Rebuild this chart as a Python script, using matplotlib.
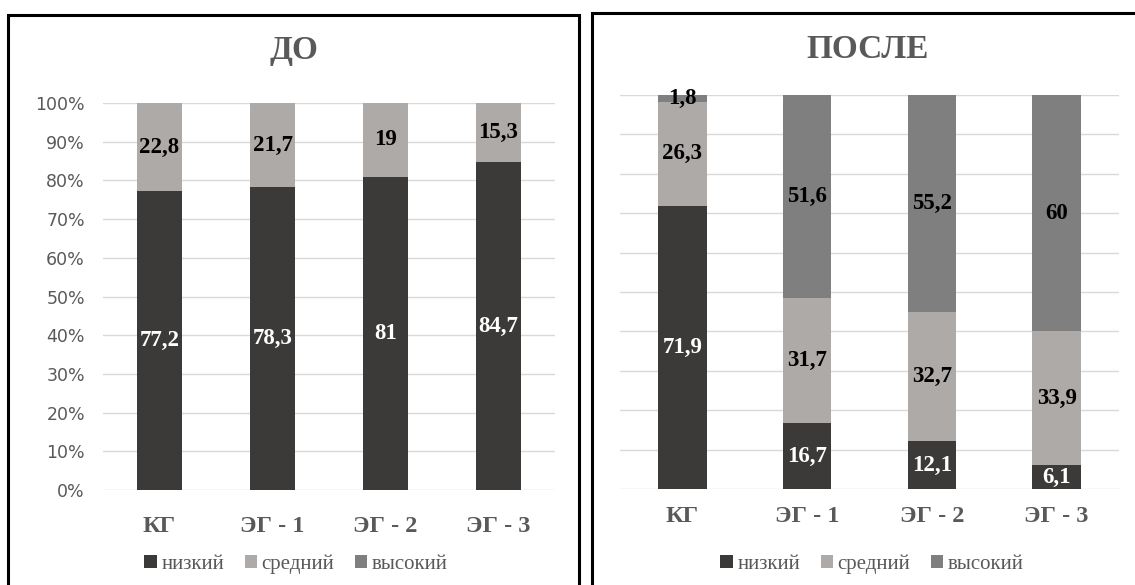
import matplotlib
matplotlib.use("Agg")
import matplotlib.pyplot as plt
from matplotlib.patches import Rectangle, Patch

plt.rcParams["font.family"] = ["Liberation Serif", "DejaVu Serif"]

# ---- data ----
categories = ["КГ", "ЭГ - 1", "ЭГ - 2", "ЭГ - 3"]
series_names = ["низкий", "средний", "высокий"]

before_low = [77.2, 78.3, 81, 84.7]
before_mid = [22.8, 21.7, 19, 15.3]
before_high = [0, 0, 0, 0]

after_low = [71.9, 16.7, 12.1, 6.1]
after_mid = [26.3, 31.7, 32.7, 33.9]
after_high = [1.8, 51.6, 55.2, 60]

titles = ["ДО", "ПОСЛЕ"]
yticks = [0, 10, 20, 30, 40, 50, 60, 70, 80, 90, 100]
ytick_labels = [f"{t}%" for t in yticks]

# ---- style ----
colors = ["#3b3a38", "#aeaaa8", "#7f7f7f"]
label_colors = ["white", "black", "black"]
gray_text = "#595959"
grid_col = "#d9d9d9"
serif = "Liberation Serif"

W, H = 1135, 585
fig = plt.figure(figsize=(W / 100, H / 100), dpi=100)

def fx(px):
    return px / W

def fy(py):
    return 1 - py / H

# panel borders
fig.patches.append(Rectangle((fx(8), fy(600)), fx(579 - 8), fy(15) - fy(600),
                             transform=fig.transFigure, fill=False,
                             edgecolor="black", linewidth=2.2, zorder=10))
fig.patches.append(Rectangle((fx(592), fy(600)), fx(1160 - 592), fy(13) - fy(600),
                             transform=fig.transFigure, fill=False,
                             edgecolor="black", linewidth=2.2, zorder=10))

panels = [
    dict(rect=(fx(103), fy(490), fx(555 - 103), fy(103) - fy(490)),
         data=[before_low, before_mid, before_high], width=0.40,
         title_x=294, title_y=50, show_y=True, xpad=19, legend_x=296),
    dict(rect=(fx(620), fy(489), fx(1119 - 620), fy(95) - fy(489)),
         data=[after_low, after_mid, after_high], width=0.39,
         title_x=868, title_y=50, show_y=False, xpad=12, legend_x=872),
]

def fmt(v):
    if float(v).is_integer():
        return str(int(v))
    return str(v).replace(".", ",")

for title, p in zip(titles, panels):
    ax = fig.add_axes(p["rect"])
    x = list(range(len(categories)))
    bottoms = [0] * len(categories)
    for si, vals in enumerate(p["data"]):
        ax.bar(x, vals, p["width"], bottom=bottoms, color=colors[si],
               edgecolor="none", zorder=3, label=series_names[si])
        for xi, (b, v) in enumerate(zip(bottoms, vals)):
            if v > 0:
                ax.text(xi, b + v / 2, fmt(v), ha="center", va="center",
                        fontfamily=serif, fontweight="bold", fontsize=16.5,
                        color=label_colors[si], zorder=5)
        bottoms = [b + v for b, v in zip(bottoms, vals)]
    ax.set_xlim(-0.5, len(categories) - 0.5)
    ax.set_ylim(0, 100)
    ax.set_yticks(yticks)
    ax.yaxis.grid(True, color=grid_col, linewidth=1.0, zorder=0)
    ax.set_axisbelow(True)
    for s in ax.spines.values():
        s.set_visible(False)
    ax.set_xticks(x)
    ax.set_xticklabels(categories, fontfamily=serif, fontweight="bold",
                       fontsize=17.5, color=gray_text)
    ax.tick_params(axis="x", length=0, pad=p["xpad"])
    if p["show_y"]:
        ax.set_yticklabels(ytick_labels, fontfamily="DejaVu Sans",
                           fontsize=12.5, color=gray_text)
        ax.tick_params(axis="y", length=0, pad=13)
    else:
        ax.tick_params(axis="y", length=0, labelleft=False)
    fig.text(fx(p["title_x"]), fy(p["title_y"]), title, ha="center",
             va="center", fontfamily=serif, fontweight="bold", fontsize=24,
             color=gray_text)
    handles = [Patch(facecolor=c, edgecolor="none") for c in colors]
    leg = fig.legend(handles, series_names, loc="center",
                     bbox_to_anchor=(fx(p["legend_x"]), fy(564)), ncol=3,
                     frameon=False, fontsize=15,
                     labelcolor=gray_text, handlelength=0.6, handleheight=0.6,
                     handletextpad=0.2, columnspacing=1.0)
    for t in leg.get_texts():
        t.set_fontfamily(serif)

fig.savefig("out.png", dpi=100, facecolor="white")
